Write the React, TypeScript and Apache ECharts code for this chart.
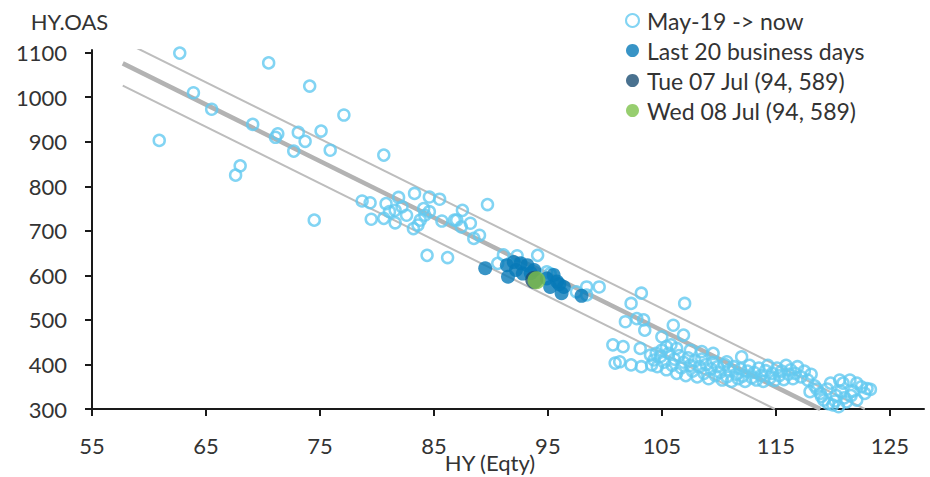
import React, { useEffect, useRef } from "react";
import * as echarts from "echarts";

// May-19 -> now (history)
const historyPoints: [number, number][] = [
  [62.7, 1099], [63.9, 1010], [65.5, 973], [60.9, 903], [69.1, 939], [70.5, 1077],
  [67.6, 825], [68.0, 846], [71.1, 910], [71.3, 918], [73.1, 921], [73.7, 901],
  [72.7, 879], [74.1, 1025], [75.1, 924], [74.5, 724], [77.1, 960], [75.9, 881],
  [78.7, 767], [79.4, 763], [79.5, 726], [80.6, 870], [80.8, 761], [81.9, 775],
  [80.6, 728], [81.1, 743], [81.6, 746], [81.6, 718], [82.2, 754], [82.6, 735],
  [83.3, 784], [83.2, 705], [83.6, 713], [83.8, 724], [84.1, 750], [84.2, 735],
  [84.6, 743], [84.6, 776], [85.5, 771], [85.7, 722], [87.5, 746], [87.0, 724],
  [87.4, 709], [88.2, 717], [88.5, 683], [89.0, 690], [89.7, 759], [84.4, 645],
  [86.2, 640], [86.8, 724],
  [91.1, 646], [92.3, 644], [94.1, 645], [90.6, 627], [95.2, 604], [94.9, 608],
  [97.5, 563], [98.4, 556], [98.4, 574], [99.5, 574], [102.3, 537], [103.2, 560],
  [107.0, 537], [101.8, 496], [102.8, 503], [103.4, 500], [103.5, 477], [106.0, 488],
  [106.9, 466], [105.0, 462],
  [100.7, 444], [101.6, 440], [103.1, 436], [100.9, 403], [101.3, 406], [102.3, 399],
  [103.2, 395], [104.1, 399], [104.0, 421], [104.5, 425], [105.0, 432], [105.4, 440],
  [105.8, 444], [106.3, 436], [107.5, 432], [108.5, 429], [109.5, 425], [110.7, 406],
  [112.0, 417],
  [104.3, 410], [104.6, 395], [104.9, 418], [105.2, 405], [105.4, 388], [105.6, 425],
  [105.9, 398], [106.1, 412], [106.3, 380], [106.5, 420], [106.7, 392], [106.9, 405],
  [107.1, 375], [107.3, 415], [107.5, 398], [107.7, 385], [107.9, 408], [108.1, 372],
  [108.3, 395], [108.5, 412], [108.7, 380], [108.9, 400], [109.1, 368], [109.3, 390],
  [109.5, 405], [109.7, 375], [109.9, 395], [110.1, 382], [110.3, 365], [110.5, 400],
  [110.7, 372], [110.9, 388], [111.1, 362], [111.3, 395], [111.5, 378], [111.7, 368],
  [111.9, 390], [112.1, 374], [112.3, 362], [112.5, 385], [112.7, 398], [112.9, 370],
  [113.1, 382], [113.3, 365], [113.5, 392], [113.7, 375], [113.9, 362], [114.1, 386],
  [114.3, 398], [114.5, 370], [114.7, 380], [114.9, 364], [115.1, 392], [115.3, 375],
  [115.5, 385], [115.7, 366], [115.9, 398], [116.1, 378], [116.3, 388], [116.5, 368],
  [116.7, 380], [116.9, 395], [117.2, 372], [117.5, 385], [117.8, 365], [118.1, 378],
  [118.0, 339], [118.4, 352], [118.9, 335], [119.2, 320], [119.5, 345], [119.8, 358],
  [120.0, 309], [120.3, 330], [120.6, 365], [120.9, 358], [121.2, 316], [121.5, 365],
  [121.8, 340], [122.1, 358], [122.1, 320], [122.5, 350], [123.0, 346], [123.3, 344],
  [120.2, 318], [120.7, 340], [121.0, 325], [119.0, 328], [118.6, 345], [122.8, 335],
  [120.5, 305], [119.6, 312], [121.6, 330],
];

// Last 20 business days
const last20Points: [number, number][] = [
  [89.5, 616], [91.4, 623], [92.0, 630], [92.6, 627], [93.2, 623], [93.8, 612],
  [91.5, 597], [92.2, 612], [92.8, 604], [94.9, 593], [95.5, 601], [95.8, 586],
  [96.4, 574], [96.2, 560], [97.95, 554], [95.2, 574], [93.5, 605], [96.0, 580],
];

const tuePoint: [number, number][] = [[93.8, 590]];
const wedPoint: [number, number][] = [[94, 589]];

// fitted line and +/- bands
const midLine: [number, number][] = [[57.7, 1076], [118.9, 300]];
const lowerLine: [number, number][] = [[57.7, 1026], [114.9, 300]];
const upperLine: [number, number][] = [[57.7, 1126], [122.8, 300]];

const xTicks = [55, 65, 75, 85, 95, 105, 115, 125];
const yTicks = [300, 400, 500, 600, 700, 800, 900, 1000, 1100];

const FONT = "Lato, 'Noto Sans', sans-serif";
const TEXT = "#333333";
const AXIS = "#1a1a1a";
const FS = 22;

export default function App() {
  const ref = useRef<HTMLDivElement>(null);
  useEffect(() => {
    if (!ref.current) return;
    const chart = echarts.init(ref.current, undefined, { renderer: "svg" });
    const bandLine = (name: string, data: [number, number][], width: number, color: string) => ({
      name,
      type: "line",
      data,
      symbol: "none",
      silent: true,
      clip: true,
      lineStyle: { color, width },
      z: 1,
    });
    chart.setOption({
      animation: false,
      backgroundColor: "#ffffff",
      textStyle: { fontFamily: FONT },
      grid: { left: 92, right: 6, top: 50, bottom: 68, containLabel: false, outerBoundsMode: "none" },
      legend: {
        data: [
          "May-19 -> now",
          "Last 20 business days",
          "Tue 07 Jul (94, 589)",
          "Wed 08 Jul (94, 589)",
        ],
        orient: "vertical",
        left: 620,
        top: 3,
        itemWidth: 13,
        itemHeight: 13,
        itemGap: 5,
        icon: "circle",
        textStyle: { fontFamily: FONT, fontSize: 23, color: TEXT, lineHeight: 25, padding: [0, 0, 0, 3] },
      },
      xAxis: {
        type: "value",
        min: 55,
        max: 128,
        name: "HY (Eqty)",
        nameLocation: "middle",
        nameGap: 42,
        nameMoveOverlap: false,
        nameTextStyle: { fontFamily: FONT, fontSize: FS, color: TEXT, padding: [0, 36, 0, 0] },
        splitLine: { show: false },
        axisLine: { lineStyle: { color: AXIS, width: 2 } },
        axisTick: { show: true, length: 7, lineStyle: { color: AXIS, width: 2 }, customValues: xTicks },
        axisLabel: { fontFamily: FONT, fontSize: FS, color: TEXT, margin: 25, customValues: xTicks, formatter: (v: number) => String(v) },
      },
      yAxis: {
        type: "value",
        min: 300,
        max: 1106,
        name: "HY.OAS",
        nameLocation: "end",
        nameGap: 18,
        nameMoveOverlap: false,
        nameTextStyle: { fontFamily: FONT, fontSize: FS, color: TEXT, padding: [0, 45, 0, 0] },
        splitLine: { show: false },
        axisLine: { show: true, lineStyle: { color: AXIS, width: 2 } },
        axisTick: { show: true, length: 7, lineStyle: { color: AXIS, width: 2 }, customValues: yTicks },
        axisLabel: { fontFamily: FONT, fontSize: FS, color: TEXT, margin: 25, customValues: yTicks, formatter: (v: number) => String(v) },
      },
      series: [
        bandLine("upper", upperLine, 2, "#bdbdbd"),
        bandLine("lower", lowerLine, 2, "#bdbdbd"),
        bandLine("fit", midLine, 4.5, "#b3b3b3"),
        {
          name: "May-19 -> now",
          type: "scatter",
          data: historyPoints,
          symbol: "circle",
          symbolSize: 11,
          itemStyle: { color: "rgba(255,255,255,0)", borderColor: "#63c9f0", borderWidth: 2.5 },
          z: 2,
        },
        {
          name: "Last 20 business days",
          type: "scatter",
          data: last20Points,
          symbol: "circle",
          symbolSize: 14,
          itemStyle: { color: "#0679b8" },
          z: 3,
        },
        {
          name: "Tue 07 Jul (94, 589)",
          type: "scatter",
          data: tuePoint,
          symbol: "circle",
          symbolSize: 18,
          itemStyle: { color: "#1b4e73" },
          z: 4,
        },
        {
          name: "Wed 08 Jul (94, 589)",
          type: "scatter",
          data: wedPoint,
          symbol: "circle",
          symbolSize: 18,
          itemStyle: { color: "#7dc24b" },
          z: 5,
        },
      ],
    });
    return () => chart.dispose();
  }, []);
  return (
    <div
      ref={ref}
      style={{ position: "fixed", left: 0, top: 0, width: 930, height: 477, background: "#fff" }}
    />
  );
}
